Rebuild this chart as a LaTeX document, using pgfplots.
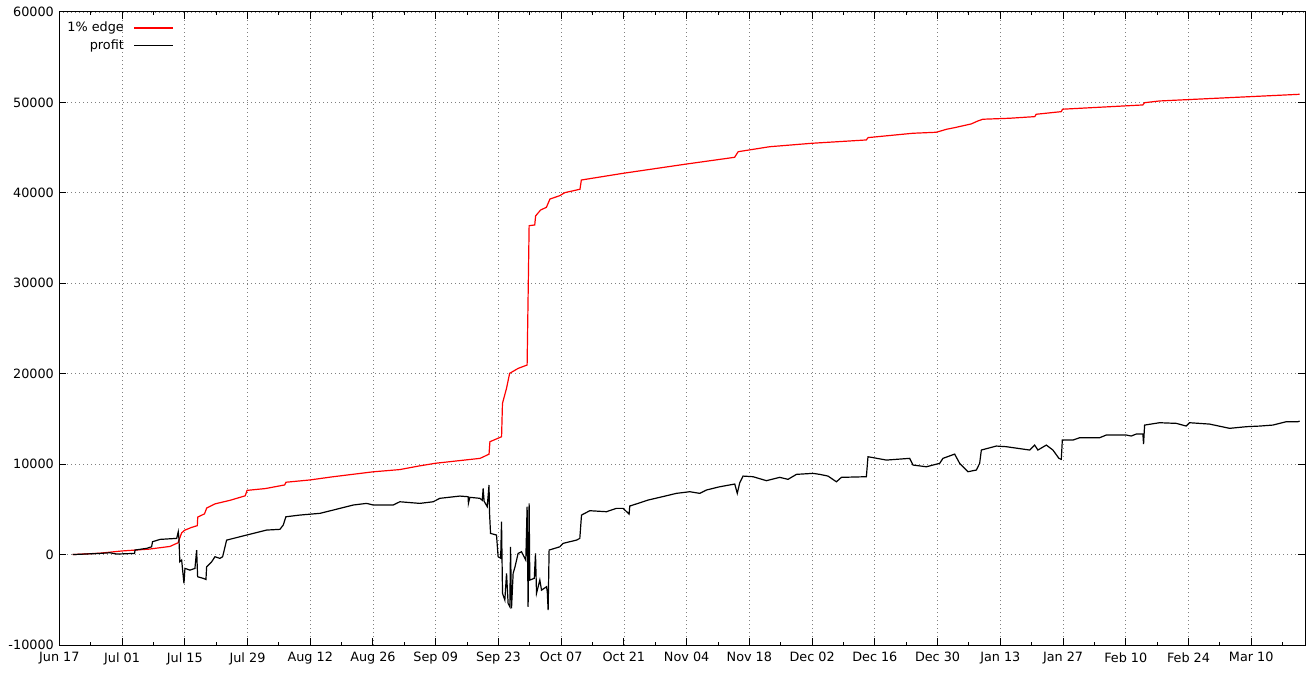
\documentclass[border=0pt]{standalone}
\usepackage{pgfplots}
\pgfplotsset{compat=1.18}
\usepackage{fontspec}
\setmainfont{DejaVu Sans}
\begin{document}
\fontsize{12.8}{15}\selectfont
\begin{tikzpicture}
\begin{axis}[
  scale only axis,
  width=1245.7pt, height=633pt,
  xmin=0, xmax=278, ymin=-10000, ymax=60000,
  xtick={0,14,...,266},
  xticklabels={Jun 17, Jul 01, Jul 15, Jul 29, Aug 12, Aug 26, Sep 09, Sep 23, Oct 07, Oct 21, Nov 04, Nov 18, Dec 02, Dec 16, Dec 30, Jan 13, Jan 27, Feb 10, Feb 24, Mar 10},
  minor xtick={7,21,...,273},
  ytick={-10000,0,10000,20000,30000,40000,50000,60000},
  scaled y ticks=false,
  /pgf/number format/1000 sep={},
  /pgf/number format/assume math mode=true,
  tick label style={font=\fontsize{12.8}{15}\selectfont},
  major tick length=7pt, minor tick length=3.5pt,
  tick style={black, line width=1pt},
  axis line style={line width=1pt},
  xmajorgrids, ymajorgrids,
  major grid style={gray, line width=0.8pt, dash pattern=on 1pt off 3pt},
  xticklabel style={yshift=-3pt},
  yticklabel style={xshift=-1pt},
  legend plot pos=right,
  legend cell align=right,
  legend style={draw=none, fill=none, at={(0,1)}, anchor=north west, xshift=3pt, yshift=-6pt, row sep=1.5pt, font=\fontsize{12.8}{15}\selectfont, /tikz/every odd column/.style={column sep=8pt}},
  legend image code/.code={\draw[#1] (0pt,0pt) -- (39pt,0pt);},
]
\addplot[red, line width=1.2pt] coordinates {
(3.0,0) (9,150) (14,400) (20,600) (24.7,900) (25.8,1150) (26.5,1300) (27.3,2400) (28.0,2700) (29.5,3000) (30.8,3200) (30.9,4150) (32.4,4500) (32.9,5150) (34.7,5600) (38.1,6000) (41.5,6500) (41.9,7100) (46,7300) (50.3,7700) (50.6,8000) (55.9,8250) (61,8600) (70,9150) (76,9400) (80.3,9800) (84,10100) (93.9,10640) (95.9,11100) (96.1,12480) (98.7,13030) (98.9,16720) (99.8,18380) (100.5,20040) (102.4,20590) (104.4,20960) (104.85,36370) (106.1,36450) (106.3,37450) (107.4,38100) (108.7,38400) (109.5,39320) (111.7,39690) (112.8,40020) (116.2,40400) (116.5,41420) (125.8,42160) (140,43190) (150.7,43930) (151.5,44550) (158.5,45100) (167.9,45480) (180.1,45850) (180.5,46110) (190.5,46590) (195.7,46700) (198,47030) (199.8,47210) (203.5,47620) (205,47950) (206.1,48140) (212.1,48250) (217.7,48430) (218.0,48690) (223.6,48980) (223.9,49250) (241.8,49720) (242.2,49970) (245.5,50160) (276.8,50900)
};
\addlegendentry{1\% edge}
\addplot[black, line width=1.2pt] coordinates {
(3.0,0) (9.1,130) (11.3,200) (12.8,55) (16.8,130) (16.9,500) (19.5,690) (20.6,860) (20.8,1420) (22.5,1680) (26.2,1790) (26.55,2520) (26.7,1790) (26.9,-800) (27.3,-600) (27.82,-3190) (28.04,-1530) (29.16,-1720) (30.27,-1530) (30.65,500) (30.87,-2450) (32.12,-2630) (32.73,-2750) (32.88,-1350) (34.0,-800) (34.73,-240) (35.85,-420) (36.45,-240) (37.34,1600) (40.31,1970) (43.28,2340) (46.27,2710) (49.23,2790) (49.97,3260) (50.57,4180) (53.70,4370) (58.16,4560) (61.12,4920) (65.59,5480) (68.57,5660) (70.05,5480) (74.51,5480) (76.0,5840) (80.46,5660) (83.43,5840) (84.93,6220) (89.39,6470) (91.24,6400) (91.3,5660) (91.62,6330) (93.85,6220) (94.4,6000) (94.59,7320) (94.8,5900) (95.5,5300) (95.9,7690) (96.0,4740) (96.24,2340) (97.57,2160) (97.93,-240) (98.5,-400) (98.69,3630) (98.91,-4290) (99.43,-5030) (99.81,-2080) (100.16,-5400) (100.54,-5770) (100.70,860) (100.92,-5950) (101.28,-2080) (101.7,-1350) (102.39,130) (103.15,310) (104.11,-610) (104.40,5290) (104.62,-5770) (104.85,5660) (105.0,-2820) (106.0,-2630) (106.27,130) (106.50,-4290) (107.24,-2820) (107.61,-3930) (108.73,-3560) (108.9,-4100) (109.09,-6140) (109.31,500) (111.70,860) (112.43,1240) (115.42,1600) (116.16,1790) (116.54,4370) (118.39,4850) (122.11,4740) (124.34,5110) (125.82,5110) (127.16,4480) (127.31,5370) (129.16,5660) (131.40,6030) (134.01,6330) (137.73,6770) (140.70,6950) (142.93,6770) (144.42,7140) (147.39,7500) (150.74,7800) (151.3,6770) (151.85,7940) (152.59,8680) (154.82,8610) (157.81,8170) (160.77,8540) (162.63,8320) (164.50,8870) (168.20,8980) (169.70,8870) (171.55,8680) (173.42,8050) (174.54,8540) (180.11,8610) (180.47,10820) (184.58,10450) (189.77,10640) (190.51,9900) (193.50,9710) (196.47,10090) (197.20,10640) (199.81,11110) (200.93,10090) (202.78,9160) (204.65,9350) (205.39,10090) (205.77,11560) (209.11,12000) (211.34,11930) (216.54,11560) (217.66,12110) (218.39,11560) (220.27,12110) (221.74,11560) (223.08,10640) (223.61,10530) (223.84,12660) (226.20,12660) (227.70,12920) (232.16,12920) (233.65,13220) (238.12,13220) (239.23,13110) (240.35,13330) (241.82,13330) (241.97,12220) (242.20,14320) (245.54,14580) (249.27,14510) (251.50,14210) (252.24,14580) (256.70,14430) (261.17,13960) (264.89,14140) (267.86,14210) (270.82,14320) (273.81,14690) (276.40,14690) (276.8,14760)
};
\addlegendentry{profit}
\end{axis}
\path ([shift={(-59.3pt,-29pt)}]current axis.south west) rectangle ([shift={(8pt,12pt)}]current axis.north east);
\end{tikzpicture}
\end{document}
